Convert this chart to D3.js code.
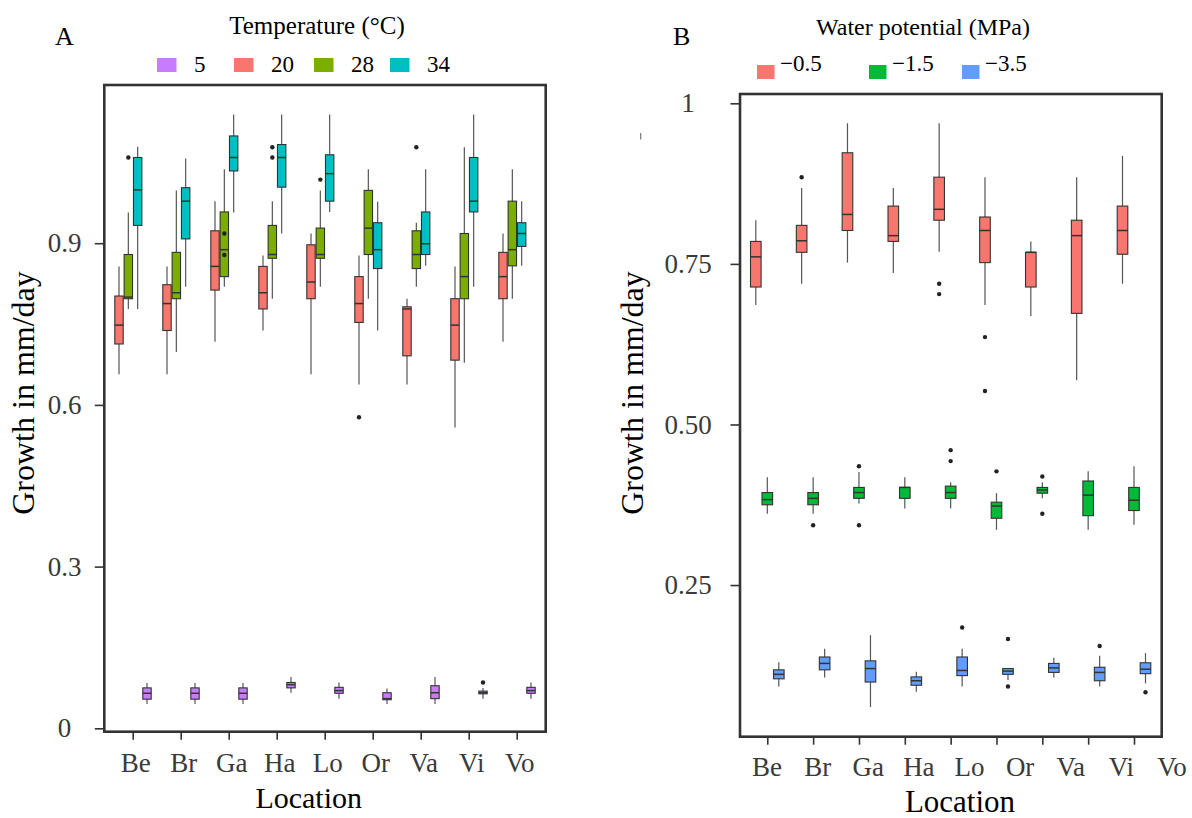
<!DOCTYPE html>
<html>
<head>
<meta charset="utf-8">
<script src="https://cdn.jsdelivr.net/npm/d3@7"></script>
<style>
  body { margin: 0; background: #fff; }
  text { font-family: "Liberation Serif", "DejaVu Serif", serif; }
</style>
</head>
<body>
<script>
const width = 1192
const height = 818

// categories
const locations = ["Be", "Br", "Ga", "Ha", "Lo", "Or", "Va", "Vi", "Vo"]
const tempLevels = ["5", "20", "28", "34"]
const potLevels = ["\u22120.5", "\u22121.5", "\u22123.5"]
const yTicksA = [0, 0.3, 0.6, 0.9]
const yTicksB = [0.25, 0.5, 0.75, 1]
const yTickLabelsB = ["0.25", "0.50", "0.75", "1"]

// panel A: [lower whisker, q1, median, q3, upper whisker] per location
const temp5 = [
  [0.045, 0.054, 0.065, 0.075, 0.084], [0.045, 0.054, 0.065, 0.075, 0.084],
  [0.045, 0.054, 0.065, 0.075, 0.084], [0.066, 0.075, 0.081, 0.085, 0.095],
  [0.055, 0.065, 0.070, 0.076, 0.085], [0.045, 0.053, 0.055, 0.066, 0.074],
  [0.045, 0.055, 0.066, 0.079, 0.095], [0.055, 0.064, 0.066, 0.069, 0.075],
  [0.055, 0.065, 0.070, 0.076, 0.085]
]
const temp20 = [
  [0.657, 0.713, 0.748, 0.802, 0.857], [0.657, 0.738, 0.788, 0.823, 0.857],
  [0.717, 0.813, 0.857, 0.923, 0.978], [0.738, 0.778, 0.808, 0.857, 0.877],
  [0.657, 0.797, 0.828, 0.897, 0.918], [0.638, 0.753, 0.788, 0.838, 0.877],
  [0.638, 0.691, 0.778, 0.782, 0.797], [0.558, 0.683, 0.748, 0.797, 0.857],
  [0.717, 0.797, 0.838, 0.883, 0.918]
]
const temp28 = [
  [0.778, 0.797, 0.800, 0.879, 0.957], [0.698, 0.797, 0.808, 0.883, 0.998],
  [0.819, 0.838, 0.888, 0.958, 1.037], [0.797, 0.872, 0.879, 0.933, 0.978],
  [0.819, 0.872, 0.879, 0.928, 0.998], [0.797, 0.879, 0.928, 0.998, 1.037],
  [0.819, 0.853, 0.879, 0.923, 0.938], [0.678, 0.797, 0.838, 0.918, 1.078],
  [0.797, 0.858, 0.888, 0.978, 1.037]
]
const temp34 = [
  [0.778, 0.933, 0.999, 1.059, 1.079], [0.819, 0.908, 0.978, 1.003, 1.057],
  [0.957, 1.034, 1.059, 1.099, 1.139], [0.918, 1.004, 1.059, 1.083, 1.139],
  [0.958, 0.978, 1.029, 1.064, 1.139], [0.738, 0.853, 0.888, 0.938, 0.977],
  [0.858, 0.879, 0.899, 0.958, 1.037], [0.819, 0.958, 0.978, 1.059, 1.139],
  [0.858, 0.894, 0.918, 0.938, 0.978]
]
const temp5Out = [["Vi", 0.085]]
const temp20Out = [["Or", 0.577]]
const temp28Out = [["Be", 1.059], ["Ga", 0.918], ["Ga", 0.878], ["Ha", 1.078], ["Ha", 1.059], ["Lo", 1.018], ["Va", 1.078]]
const temp34Out = []

// panel B
const pot05 = [
  [0.686, 0.714, 0.761, 0.785, 0.818], [0.719, 0.768, 0.786, 0.810, 0.868],
  [0.752, 0.802, 0.827, 0.923, 0.969], [0.736, 0.785, 0.794, 0.840, 0.868],
  [0.769, 0.818, 0.835, 0.885, 0.969], [0.686, 0.752, 0.802, 0.823, 0.885],
  [0.669, 0.714, 0.768, 0.768, 0.785], [0.569, 0.673, 0.794, 0.818, 0.885],
  [0.719, 0.765, 0.802, 0.840, 0.918]
]
const pot15 = [
  [0.361, 0.375, 0.383, 0.394, 0.418], [0.361, 0.375, 0.385, 0.394, 0.418],
  [0.377, 0.385, 0.394, 0.402, 0.426], [0.369, 0.385, 0.402, 0.402, 0.418],
  [0.369, 0.385, 0.394, 0.404, 0.410], [0.336, 0.354, 0.373, 0.379, 0.393],
  [0.385, 0.393, 0.398, 0.402, 0.410], [0.336, 0.358, 0.390, 0.412, 0.427],
  [0.344, 0.366, 0.382, 0.402, 0.435]
]
const pot35 = [
  [0.092, 0.104, 0.111, 0.118, 0.130], [0.106, 0.118, 0.128, 0.138, 0.151],
  [0.060, 0.099, 0.120, 0.132, 0.172], [0.084, 0.094, 0.101, 0.107, 0.115],
  [0.092, 0.109, 0.117, 0.138, 0.151], [0.102, 0.111, 0.116, 0.120, 0.120],
  [0.106, 0.114, 0.121, 0.128, 0.137], [0.092, 0.101, 0.114, 0.122, 0.140],
  [0.097, 0.112, 0.119, 0.129, 0.144]
]
const pot05Out = [["Br", 0.885], ["Lo", 0.719], ["Lo", 0.703], ["Or", 0.636], ["Or", 0.552]]
const pot15Out = [["Br", 0.343], ["Ga", 0.435], ["Ga", 0.343], ["Lo", 0.460], ["Lo", 0.443], ["Or", 0.427], ["Va", 0.419], ["Va", 0.361]]
const pot35Out = [["Lo", 0.184], ["Or", 0.166], ["Or", 0.092], ["Vi", 0.155], ["Vo", 0.083]]

const tempColors = ["#C77CFF", "#F8766D", "#7CAE00", "#00BFC4"]
const potColors = ["#F8766D", "#00BA38", "#619CFF"]

const svg = d3.select("body").append("svg")
  .attr("width", width).attr("height", height)
  .attr("font-family", "Liberation Serif")
svg.append("rect").attr("width", width).attr("height", height).attr("fill", "#fff")

const ink = "#333333"

function drawBoxes(g, stats, outs, color, cx, y, bw) {
  const grp = g.append("g")
  stats.forEach((s, i) => {
    const x = cx(locations[i])
    grp.append("line")
      .attr("x1", x).attr("x2", x)
      .attr("y1", y(s[0])).attr("y2", y(s[4]))
      .attr("stroke", "#555").attr("stroke-width", 1.2)
    grp.append("rect")
      .attr("x", x - bw / 2).attr("y", y(s[3]))
      .attr("width", bw).attr("height", Math.max(1, y(s[1]) - y(s[3])))
      .attr("fill", color).attr("stroke", ink).attr("stroke-width", 1.1)
    grp.append("line")
      .attr("x1", x - bw / 2).attr("x2", x + bw / 2)
      .attr("y1", y(s[2])).attr("y2", y(s[2]))
      .attr("stroke", ink).attr("stroke-width", 1.5)
  })
  grp.selectAll("circle.out").data(outs).join("circle")
    .attr("class", "out")
    .attr("cx", d => cx(d[0]))
    .attr("cy", d => y(d[1]))
    .attr("r", 2.2)
    .attr("fill", "#222")
}

function drawFrame(box) {
  svg.append("rect")
    .attr("x", box.left).attr("y", box.top)
    .attr("width", box.right - box.left).attr("height", box.bottom - box.top)
    .attr("fill", "none").attr("stroke", ink).attr("stroke-width", 2.6)
}

function drawYAxis(box, y, ticks, labels, labelCenter) {
  const ax = svg.append("g")
    .attr("transform", `translate(${box.left},0)`)
    .call(d3.axisLeft(y).tickValues(ticks).tickSize(9.5).tickFormat((d, i) => labels[i]))
  ax.attr("font-family", "Liberation Serif")
  ax.select(".domain").remove()
  ax.selectAll(".tick line").attr("stroke", ink).attr("stroke-width", 1.6)
  ax.selectAll(".tick text")
    .attr("x", labelCenter - box.left)
    .attr("text-anchor", "middle")
    .attr("fill", "#3a3a3a")
    .attr("font-size", 27)
}

function drawXAxis(box, x, labelScale, fontSize, baseline) {
  const ax = svg.append("g")
    .attr("transform", `translate(0,${box.bottom})`)
    .call(d3.axisBottom(x).tickSize(8).tickFormat(""))
  ax.select(".domain").remove()
  ax.selectAll(".tick line").attr("stroke", ink).attr("stroke-width", 1.6)
  svg.append("g").selectAll("text").data(locations).join("text")
    .attr("x", d => labelScale(d))
    .attr("y", baseline)
    .attr("text-anchor", "middle")
    .attr("font-size", fontSize)
    .attr("fill", "#3a3a3a")
    .text(d => d)
}

// ---------- Panel A ----------
const boxA = { left: 104.3, right: 545.7, top: 85, bottom: 731.7 }
const xA = d3.scalePoint().domain(locations).range([132.7, 516.7])
const yA = d3.scaleLinear().domain([-0.0063, 1.1935]).range([boxA.bottom, boxA.top])
const dodgeA = d3.scalePoint().domain(["20", "28", "34", "5"]).range([-14, 14])
const gA = svg.append("g")
const seriesA = [[temp5, temp5Out], [temp20, temp20Out], [temp28, temp28Out], [temp34, temp34Out]]
seriesA.forEach(([stats, outs], k) => {
  const lvl = tempLevels[k]
  drawBoxes(gA, stats, outs, tempColors[k], loc => xA(loc) + dodgeA(lvl) + 0.3, yA, 8.4)
})
drawFrame(boxA)
drawYAxis(boxA, yA, yTicksA, yTicksA.map(d => String(d)), 64.5)
drawXAxis(boxA, xA, loc => xA(loc) + 3, 27, 772)

svg.append("text").attr("x", 55).attr("y", 45).attr("font-size", 26).text("A")
svg.append("text").attr("x", 317).attr("y", 34).attr("text-anchor", "middle")
  .attr("font-size", 25).text("Temperature (\u00B0C)")
svg.append("text").attr("x", 308.7).attr("y", 808).attr("text-anchor", "middle")
  .attr("font-size", 30).text("Location")
svg.append("text").attr("transform", "translate(34,393) rotate(-90)")
  .attr("text-anchor", "middle").attr("font-size", 32).text("Growth in mm/day")

const legA = [157, 234, 314, 390]
tempLevels.forEach((lvl, k) => {
  svg.append("rect").attr("x", legA[k]).attr("y", 58).attr("width", 19.5).attr("height", 14)
    .attr("fill", tempColors[k])
  svg.append("text").attr("x", legA[k] + 37).attr("y", 71.5).attr("font-size", 23).text(lvl)
})

// ---------- Panel B ----------
const boxB = { left: 740, right: 1161.7, top: 94, bottom: 736.7 }
const xB = d3.scalePoint().domain(locations).range([767.3, 1134])
const yB = d3.scaleLinear().domain([0.0139, 1.0145]).range([boxB.bottom, boxB.top])
const dodgeB = d3.scalePoint().domain(potLevels).range([-11.5, 11.5])
const labelB = d3.scalePoint().domain(locations).range([767, 1172])
const gB = svg.append("g")
const seriesB = [[pot05, pot05Out], [pot15, pot15Out], [pot35, pot35Out]]
seriesB.forEach(([stats, outs], k) => {
  const lvl = potLevels[k]
  drawBoxes(gB, stats, outs, potColors[k], loc => xB(loc) + dodgeB(lvl), yB, 10.6)
})
drawFrame(boxB)
drawYAxis(boxB, yB, yTicksB, yTickLabelsB, 688)
drawXAxis(boxB, xB, labelB, 27, 776)

svg.append("text").attr("x", 673).attr("y", 45).attr("font-size", 26).text("B")
svg.append("text").attr("x", 923).attr("y", 35).attr("text-anchor", "middle")
  .attr("font-size", 24).text("Water potential (MPa)")
svg.append("text").attr("x", 960).attr("y", 812).attr("text-anchor", "middle")
  .attr("font-size", 31).text("Location")
svg.append("text").attr("transform", "translate(643,393) rotate(-90)")
  .attr("text-anchor", "middle").attr("font-size", 32).text("Growth in mm/day")

// stray tick mark left of panel B
svg.append("line").attr("x1", 640.7).attr("x2", 640.7).attr("y1", 133).attr("y2", 139.5)
  .attr("stroke", "#777").attr("stroke-width", 1.2)

const legB = [757, 869, 962]
potLevels.forEach((lvl, k) => {
  svg.append("rect").attr("x", legB[k]).attr("y", 65).attr("width", 17.5).attr("height", 14)
    .attr("fill", potColors[k])
  svg.append("text").attr("x", legB[k] + 23).attr("y", 71).attr("font-size", 23).text(lvl)
})
</script>
</body>
</html>
